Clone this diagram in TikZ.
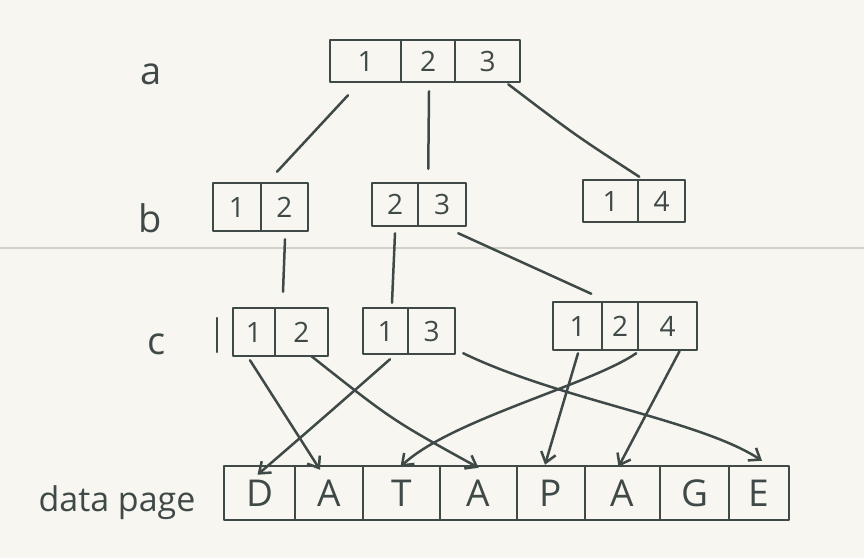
\documentclass[tikz,border=0pt]{standalone}
\usepackage{fontspec}
\setmainfont{Open Sans}
\usetikzlibrary{arrows.meta,calc}
\definecolor{ink}{HTML}{3F4A48}
\definecolor{paper}{HTML}{F8F6F1}
\definecolor{rulecol}{HTML}{D4D1CB}
\begin{document}
\begin{tikzpicture}[x=1pt,y=-1pt,
  cell/.style={draw=ink, line width=2.5pt, line join=round, inner sep=0pt,
    text=ink, font=\fontsize{28}{28}\selectfont},
  dcell/.style={cell, minimum height=54pt, font=\fontsize{37}{37}\selectfont},
  lab/.style={text=ink, inner sep=0pt},
  link/.style={draw=ink, line width=2.5pt, line cap=round},
  ptr/.style={link, -{Straight Barb[length=10pt,width=15pt,line width=2.5pt]}}
]
% paper
\path[fill=paper] (0,0) rectangle (864,558);
\useasboundingbox (0,0) rectangle (864,558);
\draw[rulecol, line width=1.2pt] (0,248) -- (864,248);

% level labels
\node[lab, font=\fontsize{38}{38}\selectfont] (la) at (151,74) {a};
\node[lab, font=\fontsize{38}{38}\selectfont] (lb) at (150,218) {b};
\node[lab, font=\fontsize{38}{38}\selectfont] (lc) at (157,344) {c};
\node[lab, font=\fontsize{34}{34}\selectfont] (ld) at (117,503) {data page};

% level a
\node[cell, minimum width=71pt, minimum height=42pt] (a1) at (365.5,61) {1};
\node[cell, minimum width=54pt, minimum height=42pt] (a2) at (428,61) {2};
\node[cell, minimum width=65pt, minimum height=42pt] (a3) at (487.5,61) {3};

% level b
\node[cell, minimum width=48pt, minimum height=48pt] (b11) at (237,207) {1};
\node[cell, minimum width=47pt, minimum height=48pt] (b12) at (284.5,207) {2};
\node[cell, minimum width=46pt, minimum height=43pt] (b21) at (395,204.5) {2};
\node[cell, minimum width=48pt, minimum height=43pt] (b22) at (442,204.5) {3};
\node[cell, minimum width=55pt, minimum height=42pt] (b31) at (610.5,201) {1};
\node[cell, minimum width=47pt, minimum height=42pt] (b32) at (661.5,201) {4};

% level c
\node[cell, minimum width=42pt, minimum height=48pt] (c11) at (254,332) {1};
\node[cell, minimum width=53pt, minimum height=48pt] (c12) at (301.5,332) {2};
\node[cell, minimum width=45pt, minimum height=46pt] (c21) at (385.5,331) {1};
\node[cell, minimum width=47pt, minimum height=46pt] (c22) at (431.5,331) {3};
\node[cell, minimum width=49pt, minimum height=48pt] (c31) at (577.5,326) {1};
\node[cell, minimum width=36pt, minimum height=48pt] (c32) at (620,326) {2};
\node[cell, minimum width=59pt, minimum height=48pt] (c33) at (667.5,326) {4};
\draw[link] ($(c11.west)+(-15,-14)$) -- ($(c11.west)+(-15,20)$);

% data page
\node[dcell, minimum width=71pt] (d1) at (259.5,493) {D};
\node[dcell, minimum width=68pt] (d2) at (329,493) {A};
\node[dcell, minimum width=77pt] (d3) at (401.5,493) {T};
\node[dcell, minimum width=77pt] (d4) at (478.5,493) {A};
\node[dcell, minimum width=68pt] (d5) at (551,493) {P};
\node[dcell, minimum width=75pt] (d6) at (622.5,493) {A};
\node[dcell, minimum width=69pt] (d7) at (694.5,493) {G};
\node[dcell, minimum width=60pt] (d8) at (759,493) {E};

% a -> b
\draw[link] ($(a1.south)+(-17.5,12)$) -- ($(b12.north)+(-7.5,-10)$);
\draw[link] ($(a2.south)+(1,8)$) -- ($(b21.north east)+(9,-13)$);
\draw[link] ($(a3.south east)+(-13,1)$) .. controls (575,135) .. ($(b31.north east)+(0,-2)$);

% b -> c
\draw[link] ($(b12.south)+(0.5,7)$) -- ($(c12.north)+(-18.5,-15)$);
\draw[link] ($(b21.south)+(0,6)$) -- ($(c21.north)+(6.5,-4)$);
\draw[link] ($(b22.south east)+(-9,6)$) -- ($(c31.north east)+(-12,-7)$);

% c -> data page
\draw[ptr] ($(c11.south)+(-4,3)$) -- ($(d2.north)+(-9,5)$);
\draw[ptr] ($(c12.south)+(10,-1)$) .. controls (392,420) .. ($(d4.north)+(0,3)$);
\draw[ptr] ($(c21.south)+(4.5,4)$) .. controls (330,412) .. ($(d1.north)+(-2,10)$);
\draw[ptr] ($(c22.south east)+(7,-2)$) .. controls (560,400) and (700,420) .. ($(d8.north)+(3,-4)$);
\draw[ptr] ($(c32.south east)+(-3,2)$) .. controls (590,385) and (450,420) .. ($(d3.north)+(-1,2)$);
\draw[ptr] ($(c31.south)+(0.5,2)$) -- ($(d5.north)+(-6,0)$);
\draw[ptr] ($(c33.south)+(12,0)$) -- ($(d6.north)+(-4,2)$);
\end{tikzpicture}
\end{document}
